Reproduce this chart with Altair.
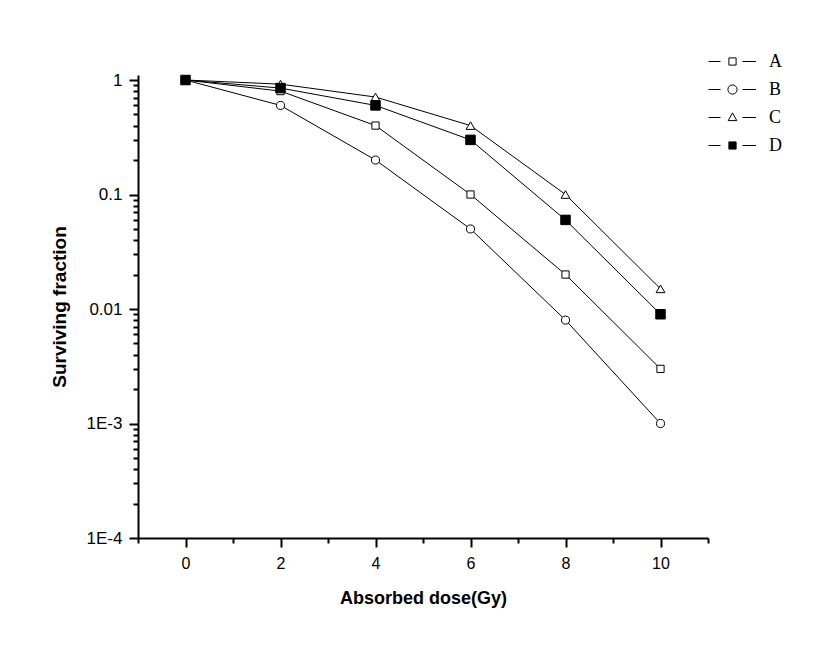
import altair as alt
import pandas as pd

doses = [0, 2, 4, 6, 8, 10]
series_names = ["A", "B", "C", "D"]
sf_A = [1.0, 0.80, 0.40, 0.10, 0.020, 0.0030]
sf_B = [1.0, 0.60, 0.20, 0.050, 0.0080, 0.0010]
sf_C = [1.0, 0.92, 0.71, 0.40, 0.10, 0.015]
sf_D = [1.0, 0.85, 0.60, 0.30, 0.060, 0.0090]

x_ticks = list(range(-1, 12))
decades = [1e-4, 1e-3, 1e-2, 1e-1]
mults = [1, 2, 3, 4, 5, 6, 7, 8, 9]
y_ticks = [m * d for d in decades for m in mults] + [1.0]

rows = []
for name, vals in zip(series_names, [sf_A, sf_B, sf_C, sf_D]):
    for d, v in zip(doses, vals):
        rows.append({"dose": d, "sf": v, "series": name})
df = pd.DataFrame(rows)

FONT = "Liberation Sans"
MAJOR_Y = "abs(log(datum.value)/LN10 - round(log(datum.value)/LN10)) < 0.001"

x_enc = alt.X(
    "dose:Q",
    scale=alt.Scale(domain=[-1, 11], nice=False, zero=False),
    axis=alt.Axis(
        title="Absorbed dose(Gy)",
        values=x_ticks,
        labelExpr="(datum.value % 2 == 0 && datum.value >= 0 && datum.value <= 10) ? datum.label : ''",
        tickSize={"condition": {"test": "datum.value % 2 == 0", "value": 9}, "value": 5},
        labelOverlap=False,
        labelFlush=False,
        grid=False,
        labelFontSize=16,
        titleFontSize=18,
        titlePadding=18,
        labelPadding=8,
    ),
)
y_enc = alt.Y(
    "sf:Q",
    scale=alt.Scale(type="log", domain=[1e-4, 1.106], nice=False),
    axis=alt.Axis(
        title="Surviving fraction",
        values=y_ticks,
        labelExpr=MAJOR_Y + " ? (datum.value >= 0.01 ? format(datum.value, '~g') : '1E' + round(log(datum.value)/LN10)) : ''",
        tickSize={"condition": {"test": MAJOR_Y, "value": 9}, "value": 5},
        labelOverlap=False,
        grid=False,
        labelFontSize=17,
        titleFontSize=19,
        titlePadding=17,
        labelPadding=7,
    ),
)

lines = alt.Chart(df).mark_line(color="black").encode(
    x=x_enc,
    y=y_enc,
    detail="series:N",
    strokeWidth=alt.StrokeWidth(
        "series:N",
        scale=alt.Scale(domain=series_names, range=[1, 1, 1, 1.8]),
        legend=None,
    ),
)

points = alt.Chart(df).mark_point(filled=True, stroke="black", strokeWidth=1, opacity=1).encode(
    x=x_enc,
    y=y_enc,
    shape=alt.Shape(
        "series:N",
        scale=alt.Scale(domain=series_names, range=["square", "circle", "triangle-up", "square"]),
        legend=None,
    ),
    fill=alt.Fill(
        "series:N",
        scale=alt.Scale(domain=series_names, range=["white", "white", "white", "black"]),
        legend=None,
    ),
    size=alt.Size(
        "series:N",
        scale=alt.Scale(domain=series_names, range=[52, 90, 115, 58]),
        legend=None,
    ),
)

# legend glyphs: "—□—" style, unit = 10 px (symbolSize 400)
seg = "M-2.4,0H-1.2M1.0,0H2.35"
sq = "M-0.36,-0.36H0.36V0.36H-0.36Z"
circ = "M-0.46,0A0.46,0.46 0 1,0 0.46,0A0.46,0.46 0 1,0 -0.46,0Z"
tri = "M0,-0.46L0.43,0.31L-0.43,0.31Z"
legend_paths = [seg + sq, seg + circ, seg + tri, seg + sq]

leg = alt.Legend(
    orient="none",
    legendX=584,
    legendY=-24,
    title=None,
    symbolSize=400,
    symbolStrokeColor="black",
    labelFont="Liberation Serif",
    labelFontSize=18,
    labelColor="black",
    labelOffset=26,
    rowPadding=8,
)

legend_layer = alt.Chart(df).transform_filter("datum.dose > 1000").mark_point(
    filled=True, stroke="black", strokeWidth=1, opacity=1
).encode(
    x=x_enc,
    y=y_enc,
    shape=alt.Shape("series:N", scale=alt.Scale(domain=series_names, range=legend_paths), legend=leg),
    fill=alt.Fill("series:N", scale=alt.Scale(domain=series_names, range=["white", "white", "white", "black"]), legend=leg),
    stroke=alt.Stroke("series:N", scale=alt.Scale(domain=series_names, range=["black", "black", "black", "black"]), legend=leg),
    strokeWidth=alt.StrokeWidth("series:N", scale=alt.Scale(domain=series_names, range=[1, 1, 1, 2]), legend=leg),
)

chart = (
    alt.layer(lines, points, legend_layer)
    .resolve_scale(shape="independent", fill="independent", strokeWidth="independent", size="independent", stroke="independent")
    .properties(
        width=570,
        height=463,
        autosize=alt.AutoSizeParams(type="none"),
        padding={"left": 130, "top": 67, "right": 111, "bottom": 107},
        background="white",
    )
    .configure_view(stroke=None)
    .configure_axis(
        domainColor="black",
        domainWidth=2,
        tickColor="black",
        tickWidth=2,
        labelFont=FONT,
        labelColor="black",
        titleFont=FONT,
        titleFontWeight="bold",
        titleColor="black",
    )
)

chart.save("out.html", embed_options={"renderer": "svg", "actions": False})
